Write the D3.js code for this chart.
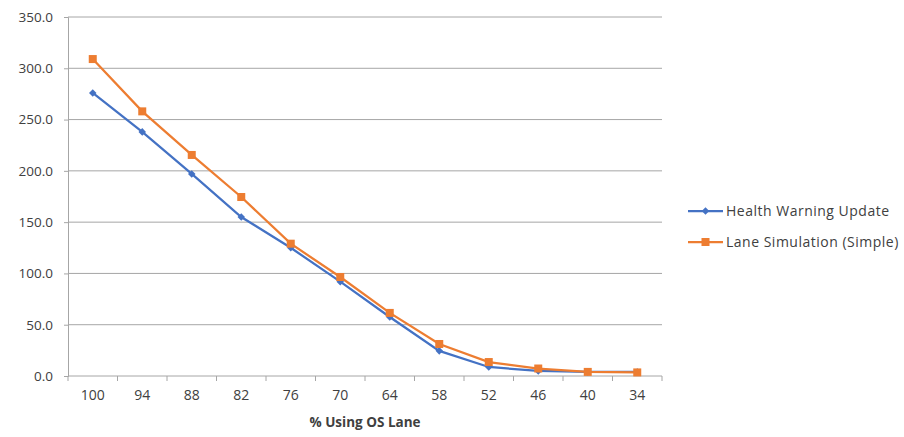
<!DOCTYPE html>
<html><head><meta charset="utf-8">
<script src="https://cdn.jsdelivr.net/npm/d3@7"></script>
<style>
body{margin:0;background:#fff;}
text{font-family:"Open Sans",sans-serif;fill:#404040;}
</style></head>
<body><svg id="c" width="904" height="437"></svg>
<script>
const categories = ["100","94","88","82","76","70","64","58","52","46","40","34"];
const healthWarning = [276, 238, 197, 155, 125, 92, 57.5, 24.5, 8.8, 4.9, 4.0, 4.0];
const laneSimulation = [309, 258, 215.5, 174.5, 129, 96.5, 61.5, 31.2, 13.6, 7.3, 4.0, 3.5];
const yTicks = [0, 50, 100, 150, 200, 250, 300, 350];
const seriesNames = ["Health Warning Update", "Lane Simulation (Simple)"];
const colors = ["#4472C4", "#ED7D31"];

(function(){
const svg = d3.select("#c");
const pL = 68, pR = 662, pT = 17, pB = 376;
const FONT = "'Open Sans',sans-serif";
const x = d3.scaleBand().domain(categories).range([pL, pR]);
const y = d3.scaleLinear().domain([0, 350]).range([pB, pT]);

svg.append("g").selectAll("line").data(yTicks.filter(d => d > 0)).join("line")
  .attr("x1", pL).attr("x2", pR)
  .attr("y1", d => y(d)).attr("y2", d => y(d))
  .attr("stroke", "#a6a6a6").attr("stroke-width", 1);

const ya = svg.append("g").attr("transform", `translate(${pL},0)`)
  .call(d3.axisLeft(y).tickValues(yTicks).tickFormat(d3.format(".1f")).tickSize(4).tickPadding(11));
ya.select(".domain").attr("stroke", "#a6a6a6");
ya.selectAll(".tick line").attr("stroke", "#a6a6a6");
ya.selectAll(".tick text").attr("font-size", 13.5).attr("fill", "#404040").attr("font-family", FONT);

const xa = svg.append("g").attr("transform", `translate(0,${pB})`)
  .call(d3.axisBottom(x).tickSize(0).tickPadding(14));
xa.select(".domain").attr("stroke", "#a6a6a6").attr("d", `M${pL},0H${pR}`);
xa.selectAll(".tick text").attr("font-size", 14).attr("fill", "#404040").attr("font-family", FONT);
const bounds = categories.map(c => x(c)).concat([pR]);
svg.append("g").selectAll("line").data(bounds).join("line")
  .attr("x1", d => d).attr("x2", d => d)
  .attr("y1", pB).attr("y2", pB + 5)
  .attr("stroke", "#a6a6a6");

svg.append("text").attr("x", (pL + pR) / 2).attr("y", 427)
  .attr("text-anchor", "middle").attr("font-size", 13.5).attr("font-weight", "bold")
  .text("% Using OS Lane");

const cx = c => x(c) + x.bandwidth() / 2;
const line = d3.line().x((d, i) => cx(categories[i])).y(d => y(d));
[healthWarning, laneSimulation].forEach((s, k) => {
  svg.append("path").datum(s).attr("d", line)
    .attr("fill", "none").attr("stroke", colors[k]).attr("stroke-width", 2.25);
});
const diamond = d3.symbol().type(d3.symbolDiamond2).size(36);
svg.append("g").selectAll("path").data(healthWarning).join("path")
  .attr("d", diamond)
  .attr("transform", (d, i) => `translate(${cx(categories[i])},${y(d)})`)
  .attr("fill", colors[0]);
svg.append("g").selectAll("rect").data(laneSimulation).join("rect")
  .attr("x", (d, i) => cx(categories[i]) - 4).attr("y", d => y(d) - 4)
  .attr("width", 8).attr("height", 8).attr("fill", colors[1]);

const lg = svg.append("g");
seriesNames.forEach((n, k) => {
  const ly = 211 + k * 31;
  lg.append("line").attr("x1", 688).attr("x2", 723).attr("y1", ly).attr("y2", ly)
    .attr("stroke", colors[k]).attr("stroke-width", 2.25);
  if (k === 0) {
    lg.append("path").attr("d", diamond)
      .attr("transform", `translate(705.5,${ly})`).attr("fill", colors[k]);
  } else {
    lg.append("rect").attr("x", 701.5).attr("y", ly - 4).attr("width", 8).attr("height", 8).attr("fill", colors[k]);
  }
  lg.append("text").attr("x", 726).attr("y", ly).attr("dy", "0.35em")
    .attr("font-size", 14).attr("letter-spacing", 0.5).text(n);
});
})();
</script></body></html>
